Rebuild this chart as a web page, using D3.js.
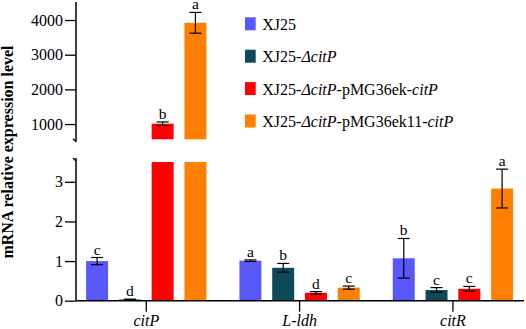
<!DOCTYPE html>
<html>
<head>
<meta charset="utf-8">
<script src="https://cdn.jsdelivr.net/npm/d3@7"></script>
<style>
  body { margin: 0; background: #fff; }
  svg text { font-family: "Liberation Serif", "Times New Roman", serif; }
</style>
</head>
<body>
<div id="chart"></div>
<script>

// data
var genes = [ 'citP', 'L-ldh', 'citR' ];
var strains = [ 'XJ25', 'XJ25-\u0394citP', 'XJ25-\u0394citP-pMG36ek-citP', 'XJ25-\u0394citP-pMG36ek11-citP' ];
var colors = [ '#5858fa', '#0c4a5a', '#ff0000', '#ff8000' ];

// one row per gene, one column per strain
var means = [
    [ 1.00, 0.03, 1010, 3920 ],
    [ 1.01, 0.83, 0.20, 0.33 ],
    [ 1.07, 0.27, 0.30, 2.83 ]
];
var errors = [
    [ 0.09, 0.01, 50, 300 ],
    [ 0.02, 0.11, 0.03, 0.04 ],
    [ 0.50, 0.06, 0.06, 0.49 ]
];
var letters = [
    [ 'c', 'd', 'b', 'a' ],
    [ 'a', 'b', 'd', 'c' ],
    [ 'b', 'c', 'c', 'a' ]
];

var lowTicks = [ 0, 1, 2, 3 ];
var highTicks = [ 1000, 2000, 3000, 4000 ];

// legend text pieces, second value = italic
var legendParts = [
    [ [ 'XJ25', 0 ] ],
    [ [ 'XJ25-', 0 ], [ '\u0394citP', 1 ] ],
    [ [ 'XJ25-', 0 ], [ '\u0394citP', 1 ], [ '-pMG36ek-', 0 ], [ 'citP', 1 ] ],
    [ [ 'XJ25-', 0 ], [ '\u0394citP', 1 ], [ '-pMG36ek11-', 0 ], [ 'citP', 1 ] ]
];

var serif = '"Liberation Serif", "Times New Roman", serif';

var width = 526,
    height = 329,
    axisX = 76,
    baseY = 300.7;

var svg = d3.select('#chart').append('svg')
    .attr('width', width)
    .attr('height', height)
    .style('display', 'block');

// scales
var x0 = d3.scaleBand()
    .domain( genes )
    .range([ 69.6, 529.6 ]);

var x1 = d3.scaleBand()
    .domain( d3.range( strains.length ) )
    .range([ 16.5, 136.8 ])
    .paddingInner( 0.33 );

var lowMax = 3.5,
    highMin = 560;

var yLow = d3.scaleLinear()
    .domain([ 0, lowMax ])
    .range([ baseY, 162 ]);

var yHigh = d3.scaleLinear()
    .domain([ highMin, 4500 ])
    .range([ 139.3, 2.7 ]);

function yOf ( v ) {
    return v > lowMax ? yHigh( v ) : yLow( v );
}

// bars
var rows = [];
genes.forEach( function ( g, gi ) {
    strains.forEach( function ( s, si ) {
        rows.push({ gene: g, si: si, mean: means[ gi ][ si ], err: errors[ gi ][ si ], letter: letters[ gi ][ si ] });
    });
});

var bw = x1.bandwidth();

var groups = svg.selectAll('.bar')
    .data( rows )
    .enter().append('g')
    .attr('class', 'bar')
    .attr('transform', function ( d ) { return 'translate(' + ( x0( d.gene ) + x1( d.si ) ) + ',0)'; });

groups.each( function ( d ) {
    var g = d3.select( this );
    if ( d.mean > lowMax ) {
        // broken bar: lower part fills lower panel, upper part in upper panel
        g.append('rect')
            .attr('x', 0).attr('width', bw)
            .attr('y', yLow( lowMax ))
            .attr('height', yLow( 0 ) - yLow( lowMax ))
            .style('fill', colors[ d.si ]);
        g.append('rect')
            .attr('x', 0).attr('width', bw)
            .attr('y', yHigh( d.mean ))
            .attr('height', yHigh( highMin ) - yHigh( d.mean ))
            .style('fill', colors[ d.si ]);
    } else {
        g.append('rect')
            .attr('x', 0).attr('width', bw)
            .attr('y', yLow( d.mean ))
            .attr('height', yLow( 0 ) - yLow( d.mean ))
            .style('fill', colors[ d.si ]);
    }

    var top = yOf( d.mean + d.err ),
        bot = yOf( d.mean - d.err ),
        cx = bw / 2;

    g.append('line')
        .attr('x1', cx).attr('x2', cx)
        .attr('y1', top).attr('y2', bot)
        .style('stroke', '#000').style('stroke-width', 1.2);
    [ top, bot ].forEach( function ( yy ) {
        g.append('line')
            .attr('x1', cx - 6).attr('x2', cx + 6)
            .attr('y1', yy).attr('y2', yy)
            .style('stroke', '#000').style('stroke-width', 1.2);
    });

    g.append('text')
        .attr('x', cx)
        .attr('y', top - 3)
        .attr('text-anchor', 'middle')
        .style('font-size', '15.5px')
        .text( d.letter );
});

// y axes
var axLow = svg.append('g')
    .attr('transform', 'translate(' + axisX + ',0)')
    .call( d3.axisLeft( yLow ).tickValues( lowTicks ).tickFormat( d3.format('d') ).tickSize( 11 ).tickPadding( 2 ) );

var axHigh = svg.append('g')
    .attr('transform', 'translate(' + axisX + ',0)')
    .call( d3.axisLeft( yHigh ).tickValues( highTicks ).tickFormat( d3.format('d') ).tickSize( 11 ).tickPadding( 2 ) );

[ axLow, axHigh ].forEach( function ( a ) {
    a.attr('font-family', null);
    a.select('.domain').remove();
    a.selectAll('text')
        .style('font-family', serif)
        .style('font-size', '16px')
        .style('fill', '#000');
    a.selectAll('line').style('stroke', '#000').style('stroke-width', 1.3);
});

// axis lines with break marks
svg.append('line')
    .attr('x1', axisX).attr('x2', axisX)
    .attr('y1', 2).attr('y2', 141.7)
    .style('stroke', '#000').style('stroke-width', 1.5);
svg.append('line')
    .attr('x1', axisX).attr('x2', axisX)
    .attr('y1', 158).attr('y2', baseY)
    .style('stroke', '#000').style('stroke-width', 1.5);
[ 141.7, 158 ].forEach( function ( yy, i ) {
    svg.append('line')
        .attr('x1', axisX - 3).attr('x2', axisX)
        .attr('y1', yy - 3 + ( i ? 3 : 0 )).attr('y2', yy + ( i ? 3 : 0 ))
        .style('stroke', '#000').style('stroke-width', 1.3);
});

// x axis
var axX = svg.append('g')
    .attr('transform', 'translate(0,' + baseY + ')')
    .call( d3.axisBottom( x0 ).tickSize( 11 ).tickPadding( 3 ) );

axX.attr('font-family', null);
axX.select('.domain').remove();
axX.selectAll('line').style('stroke', '#000').style('stroke-width', 1.3);
axX.selectAll('text')
    .style('font-family', serif)
    .style('font-style', 'italic')
    .style('font-size', '16px')
    .style('fill', '#000');

svg.append('line')
    .attr('x1', axisX).attr('x2', 524)
    .attr('y1', baseY).attr('y2', baseY)
    .style('stroke', '#000').style('stroke-width', 1.5);

// y label
svg.append('text')
    .attr('transform', 'translate(12.5,152) rotate(-90)')
    .attr('text-anchor', 'middle')
    .style('font-family', serif)
    .style('font-size', '16px')
    .style('font-weight', 'bold')
    .text('mRNA relative expression level');

// legend
var legend = svg.selectAll('.legend')
    .data( legendParts )
    .enter().append('g')
    .attr('class', 'legend')
    .attr('transform', function ( d, i ) { return 'translate(245,' + ( 23.8 + i * 32.4 ) + ')'; });

legend.append('rect')
    .attr('x', 0).attr('y', -6.5)
    .attr('width', 10.7).attr('height', 13)
    .style('fill', function ( d, i ) { return colors[ i ]; });

var lt = legend.append('text')
    .attr('x', 17.3)
    .attr('y', 6)
    .style('font-family', serif)
    .style('font-size', '16px');

lt.selectAll('tspan')
    .data( function ( d ) { return d; } )
    .enter().append('tspan')
    .style('font-style', function ( d ) { return d[ 1 ] ? 'italic' : 'normal'; })
    .text( function ( d ) { return d[ 0 ]; } );

</script>
</body>
</html>
